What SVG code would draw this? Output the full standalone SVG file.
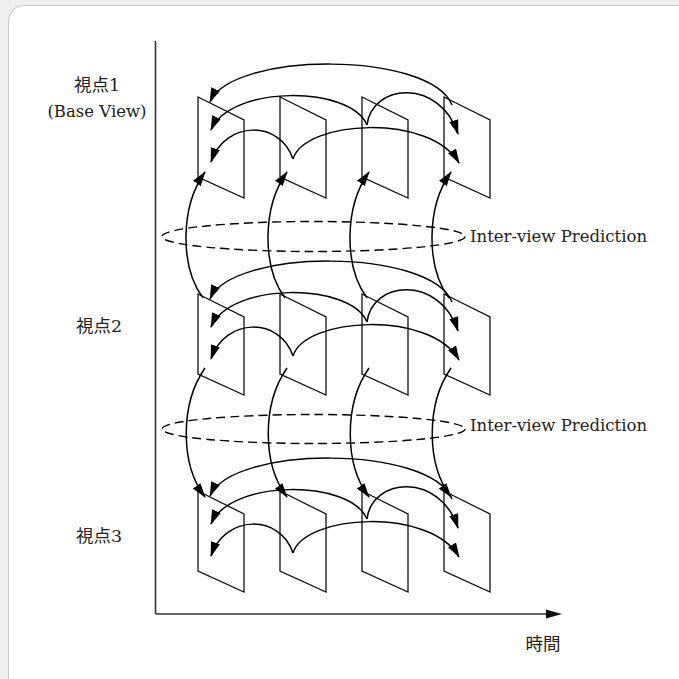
<svg xmlns="http://www.w3.org/2000/svg" width="679" height="679" viewBox="0 0 679 679">
<style>
.frame{fill:none;stroke:#111;stroke-width:1.3}
.arc{fill:none;stroke:#000;stroke-width:1.5;marker-end:url(#ah)}
.vp{fill:none;stroke:#000;stroke-width:1.4;stroke-dasharray:9 5}
.axis{fill:none;stroke:#333;stroke-width:1.6}
.lbl{font-family:"DejaVu Serif","Noto Sans CJK JP",serif;font-size:16.5px;fill:#222}
.cjk{font-family:"DejaVu Serif","Noto Sans CJK JP",serif;font-size:17.5px;fill:#222}
</style>
<defs>
<marker id="ah" markerUnits="userSpaceOnUse" markerWidth="15" markerHeight="10" viewBox="0 0 15 10" refX="14" refY="5" orient="auto">
<path d="M0,0.3 L15,5 L0,9.7 z" fill="#000"/>
</marker>
<polygon id="fr" class="frame" points="0,0 46,23 46,101 0,80"/>
<g id="rowarcs">
<path class="arc" d="M452,105 C430,51 232,51 210,102"/>
<path class="arc" d="M367,125 C350,85 230,85 211,130"/>
<path class="arc" d="M367,125 C372,83 440,78 458,134"/>
<path class="arc" d="M293,159 C280,120 225,120 211,162"/>
<path class="arc" d="M293,159 C305,120 430,113 459,163"/>
</g>
</defs>
<rect x="0" y="0" width="679" height="679" fill="#efefef"/>
<rect x="8.5" y="5.5" width="700" height="700" rx="15" fill="#fff" stroke="#c8c8c8" stroke-width="1"/>

<g id="axes">
<line class="axis" x1="155.5" y1="41" x2="155.5" y2="614"/>
<line class="axis" x1="155.5" y1="614" x2="548" y2="614"/>
<polygon points="546,609.4 562,614 546,618.6" fill="#111"/>
</g>

<g id="view1">
<use id="f11" href="#fr" x="198" y="97"/>
<use id="f12" href="#fr" x="280" y="97"/>
<use id="f13" href="#fr" x="362" y="97"/>
<use id="f14" href="#fr" x="444" y="97"/>
</g>
<g id="view2">
<use id="f21" href="#fr" x="198" y="294"/>
<use id="f22" href="#fr" x="280" y="294"/>
<use id="f23" href="#fr" x="362" y="294"/>
<use id="f24" href="#fr" x="444" y="294"/>
</g>
<g id="view3">
<use id="f31" href="#fr" x="198" y="491"/>
<use id="f32" href="#fr" x="280" y="491"/>
<use id="f33" href="#fr" x="362" y="491"/>
<use id="f34" href="#fr" x="444" y="491"/>
</g>

<g id="ivp1"><ellipse class="vp" cx="313.5" cy="236.5" rx="151.5" ry="15"/></g>
<g id="ivp2"><ellipse class="vp" cx="313.5" cy="429" rx="151.5" ry="14.5"/></g>

<g id="connectors">
<use href="#rowarcs"/>
<use href="#rowarcs" y="197"/>
<use href="#rowarcs" y="394"/>
<path class="arc" d="M203,298 C180,267 180,207 205,172"/>
<path class="arc" d="M285,298 C262,267 262,207 287,172"/>
<path class="arc" d="M367,298 C344,267 344,207 369,172"/>
<path class="arc" d="M449,298 C426,267 426,207 451,172"/>
<path class="arc" d="M205,368 C180,404 180,464 205,497"/>
<path class="arc" d="M287,368 C262,404 262,464 287,497"/>
<path class="arc" d="M369,368 C344,404 344,464 369,497"/>
<path class="arc" d="M451,368 C426,404 426,464 451,497"/>
</g>

<g id="labels">
<text class="cjk" x="97" y="91" text-anchor="middle">視点1</text>
<text class="lbl" x="97" y="117" text-anchor="middle">(Base View)</text>
<text class="cjk" x="99" y="332" text-anchor="middle">視点2</text>
<text class="cjk" x="99" y="542" text-anchor="middle">視点3</text>
<text class="cjk" x="543" y="650" text-anchor="middle">時間</text>
<text class="lbl" x="470" y="242">Inter-view Prediction</text>
<text class="lbl" x="470" y="431">Inter-view Prediction</text>
</g>
</svg>
